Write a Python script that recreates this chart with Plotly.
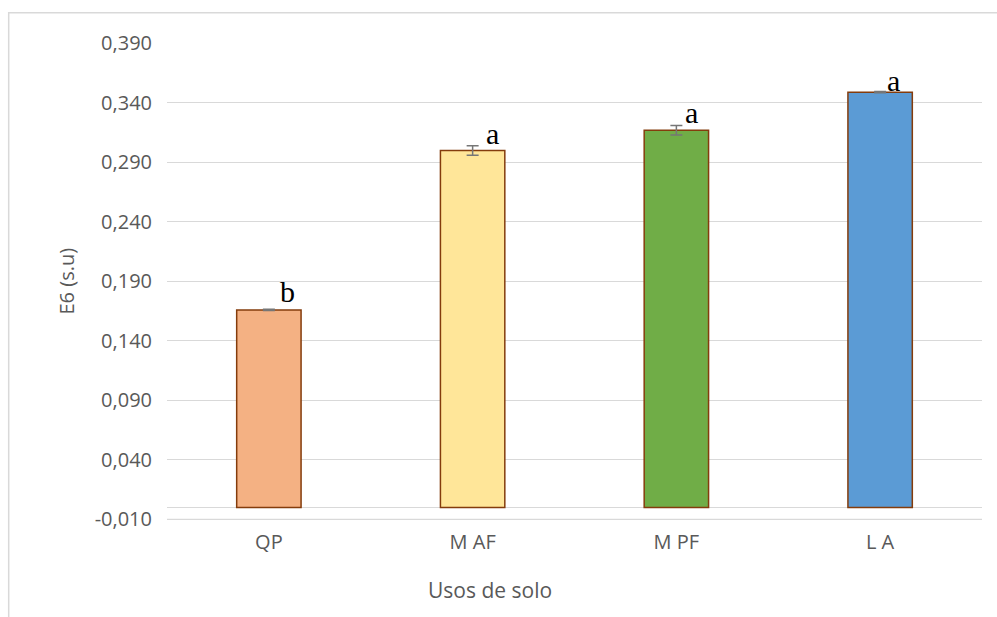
import plotly.graph_objects as go

categories = ["QP", "M AF", "M PF", "L A"]
values = [0.166, 0.300, 0.317, 0.349]
errors = [0.0005, 0.004, 0.004, 0.0005]
letters = ["b", "a", "a", "a"]
bar_colors = ["#F4B183", "#FFE699", "#70AD47", "#5B9BD5"]
y_ticks = [-0.010, 0.040, 0.090, 0.140, 0.190, 0.240, 0.290, 0.340, 0.390]
y_tick_labels = ["-0,010", "0,040", "0,090", "0,140", "0,190", "0,240", "0,290", "0,340", "0,390"]

# label placement tweaks (pixels)
label_xshift = [19, 20, 15, 13]
label_yshift = [0, -2, -1, -7]

W, H = 997, 617
L, R, T, B = 167, 15, 43, 97
pw = W - L - R
ph = H - T - B

def px_x(p):
    return (p - L) / pw

def px_y(p):
    return (H - B - p) / ph

TXT = "#595959"
FONT = "Open Sans"

fig = go.Figure()
fig.add_trace(go.Bar(
    x=list(range(len(categories))),
    y=values,
    width=0.316,
    marker=dict(color=bar_colors, line=dict(color="#843C0C", width=1.5)),
    error_y=dict(type="data", array=errors, visible=True, color="#767676",
                 thickness=1.5, width=6),
    showlegend=False,
    hoverinfo="skip",
))

annotations = []
for i, (v, e, t) in enumerate(zip(values, errors, letters)):
    annotations.append(dict(
        x=i, y=v, xref="x", yref="y", text=t, showarrow=False,
        xanchor="center", yanchor="bottom",
        xshift=label_xshift[i], yshift=label_yshift[i],
        font=dict(family="Liberation Serif", size=30, color="#000000"),
    ))

annotations.append(dict(
    x=px_x(490), y=px_y(590), xref="paper", yref="paper", text="Usos de solo",
    showarrow=False, xanchor="center", yanchor="middle",
    font=dict(family=FONT, size=21, color=TXT),
))
annotations.append(dict(
    x=px_x(66), y=0.5, xref="paper", yref="paper", text="E6 (s.u)",
    showarrow=False, xanchor="center", yanchor="middle", textangle=-90,
    font=dict(family=FONT, size=20, color=TXT),
))

fig.update_layout(
    width=W, height=H,
    margin=dict(l=L, r=R, t=T, b=B, autoexpand=False),
    paper_bgcolor="white", plot_bgcolor="white",
    annotations=annotations,
    shapes=[
        dict(
            type="rect", xref="paper", yref="paper",
            x0=px_x(8.7), x1=px_x(1010), y0=px_y(640), y1=px_y(12.7),
            line=dict(color="#D9D9D9", width=1.5), fillcolor="rgba(0,0,0,0)",
            layer="below",
        ),
        dict(
            type="line", xref="paper", yref="y",
            x0=0, x1=1, y0=y_ticks[0], y1=y_ticks[0],
            line=dict(color="#D9D9D9", width=1.3), layer="below",
        ),
    ],
    xaxis=dict(
        range=[-0.5, 3.5],
        tickvals=list(range(len(categories))),
        ticktext=categories,
        showgrid=False, zeroline=False, showline=False, ticks="",
        tickfont=dict(family=FONT, size=20, color=TXT),
        ticklabelstandoff=8,
        fixedrange=True,
    ),
    yaxis=dict(
        range=[-0.0105, 0.3903],
        tickvals=y_ticks,
        ticktext=y_tick_labels,
        showgrid=True, gridcolor="#D9D9D9", gridwidth=1.3,
        zeroline=True, zerolinecolor="#D9D9D9", zerolinewidth=1.3,
        showline=False, ticks="",
        tickfont=dict(family=FONT, size=20, color=TXT),
        ticklabelstandoff=14,
        fixedrange=True,
    ),
)

fig.write_html("out.html", config={"displayModeBar": False},
               post_script="document.body.style.margin='0';document.body.style.overflow='hidden';")
